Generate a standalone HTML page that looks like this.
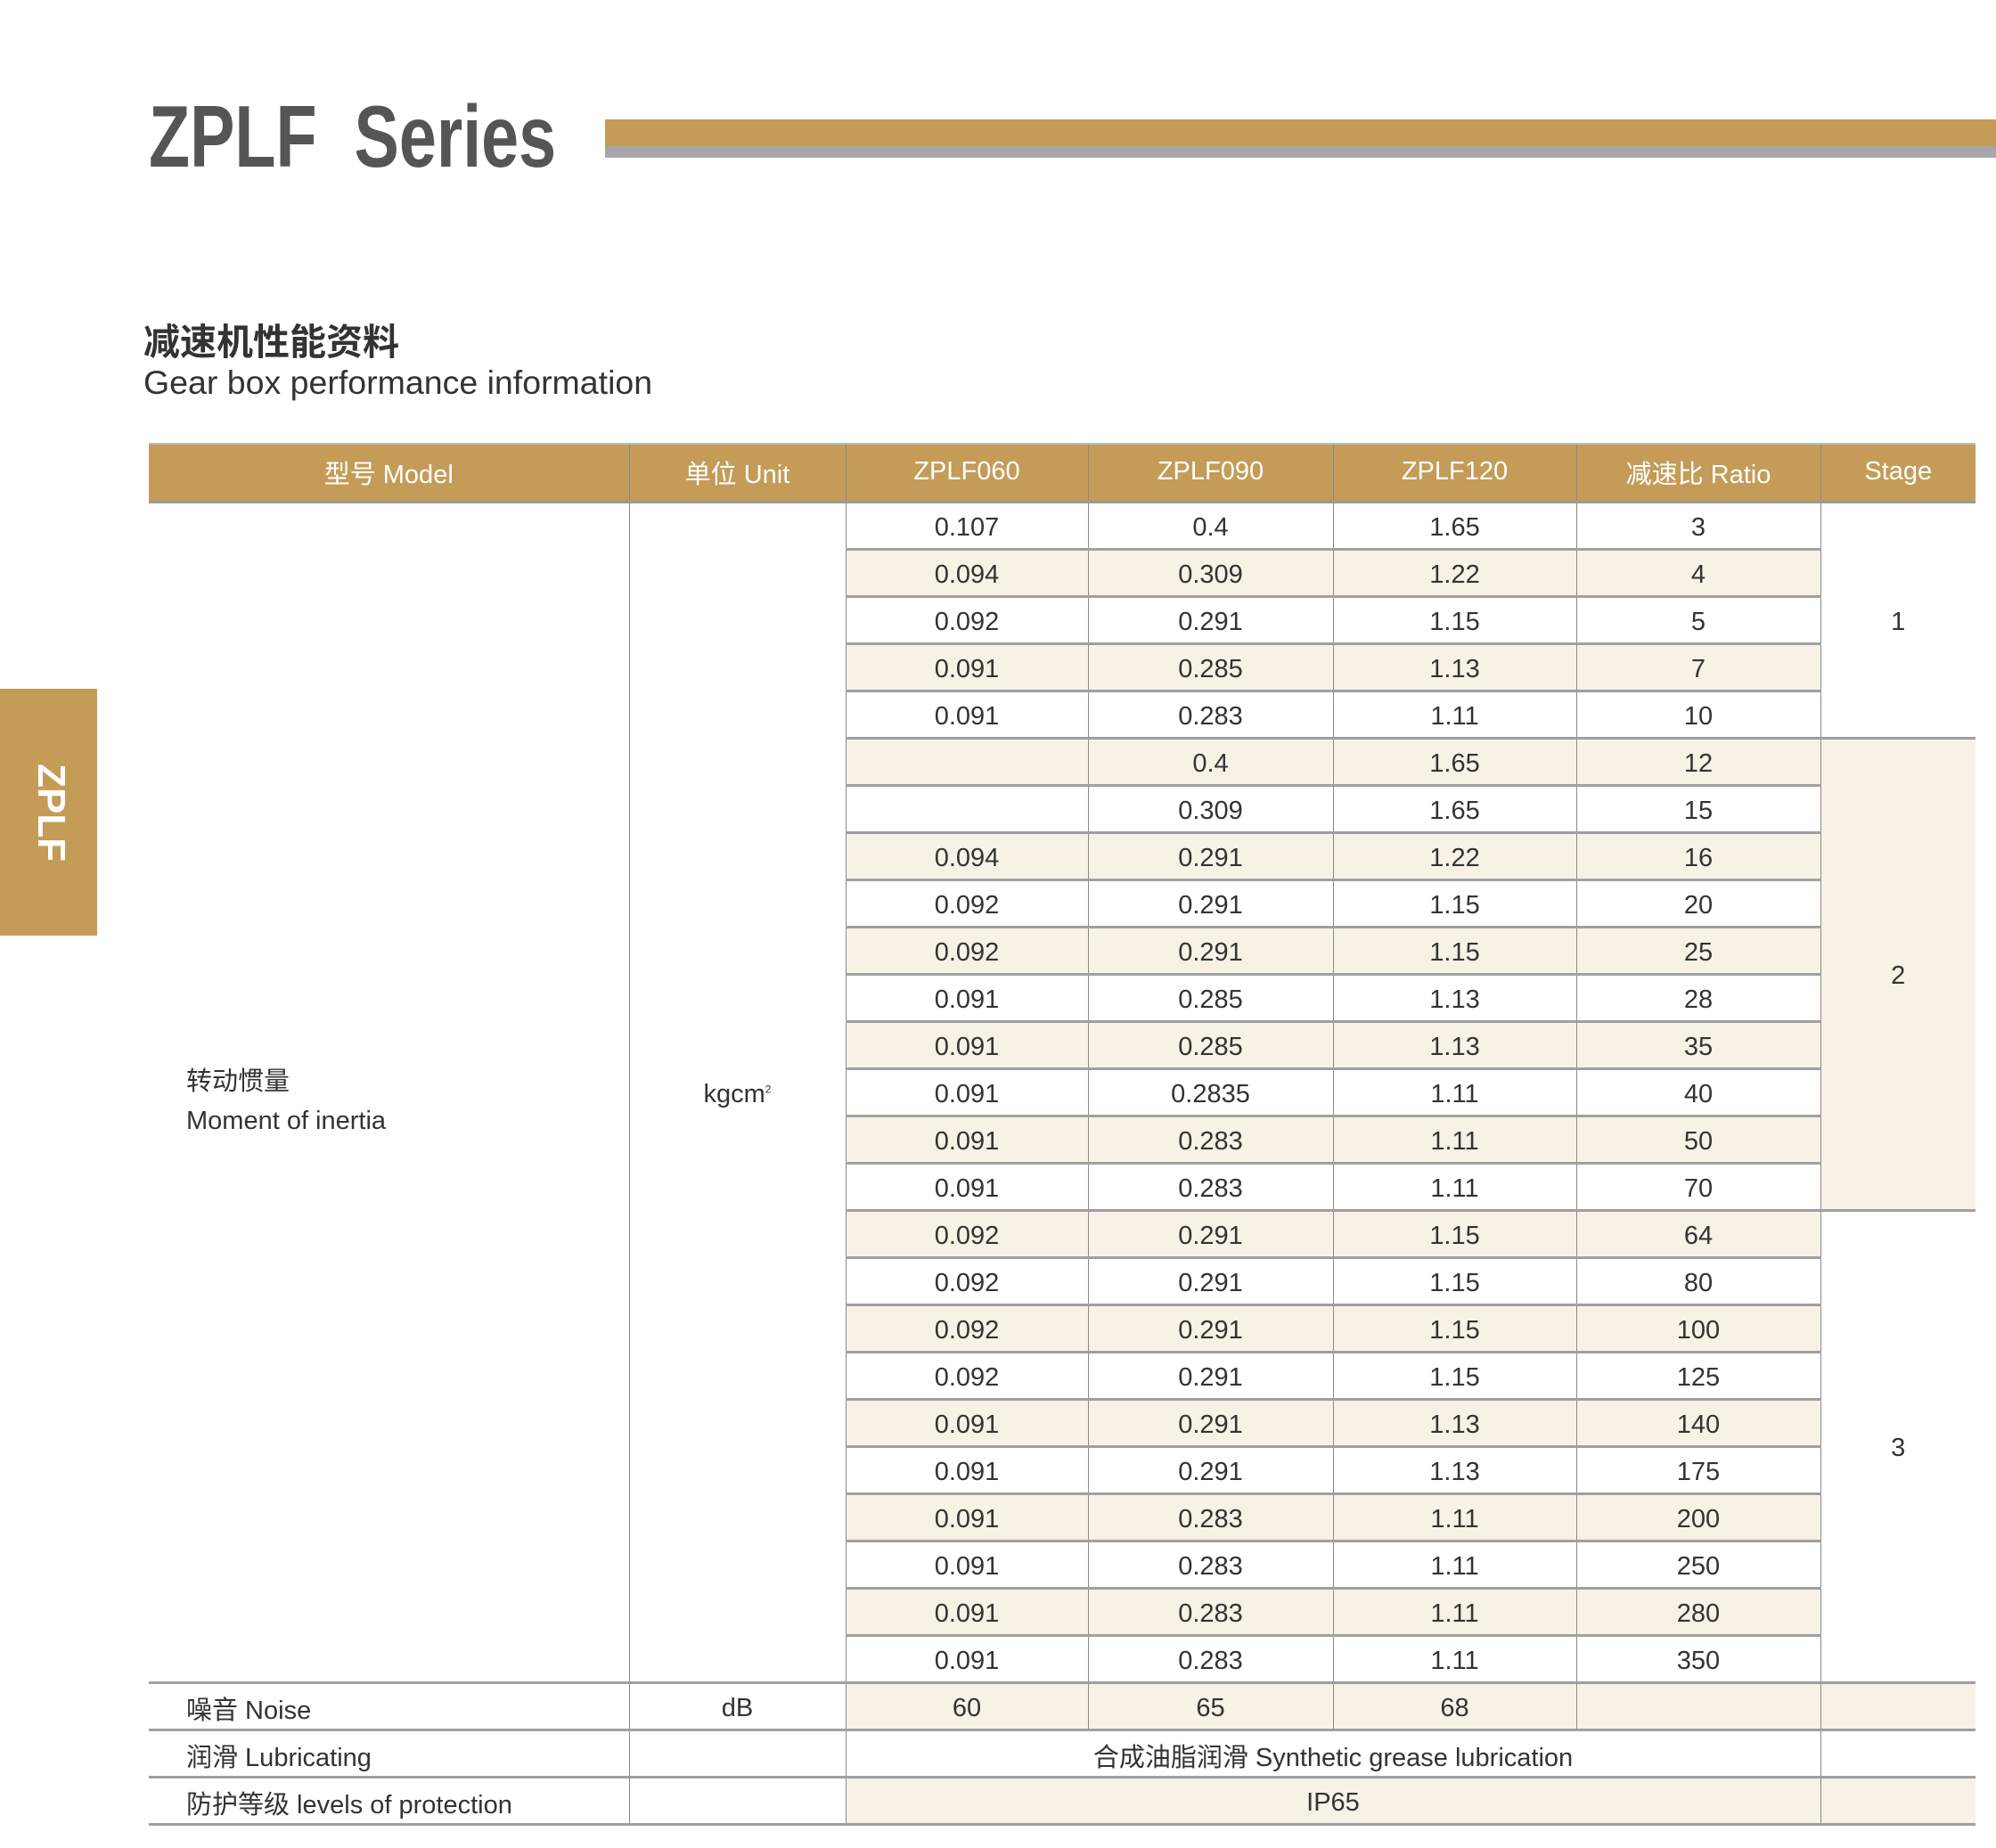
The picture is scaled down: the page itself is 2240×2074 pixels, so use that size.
<!DOCTYPE html>
<html><head><meta charset="utf-8"><style>
body{margin:0;width:2240px;height:2074px;background:#fff;position:relative;overflow:hidden;font-family:"Liberation Sans","Noto Sans CJK SC",sans-serif;color:#333}
.title{position:absolute;left:167px;top:104px;font-size:98px;font-weight:bold;color:#555;transform:scaleX(0.77);transform-origin:left top;white-space:nowrap;line-height:1}
.gold{position:absolute;left:679px;top:134px;width:1561px;height:30px;background:#c49c58}
.gray{position:absolute;left:679px;top:164px;width:1561px;height:13px;background:#a7a7a9}
.tab{position:absolute;left:0;top:773px;width:109px;height:277px;background:#c49c58}
.h1{position:absolute;left:161px;top:350px;font-size:41px;font-weight:bold;color:#333;white-space:nowrap}
.h2{position:absolute;left:161px;top:408px;font-size:37.5px;color:#333;white-space:nowrap}
table{position:absolute;left:167px;top:497px;border-collapse:collapse;table-layout:fixed;width:2050px;font-size:29px}
td{padding:4px 0 0 0;text-align:center;vertical-align:middle;height:46px;border-left:1px solid #8a8a8a}
tr.hd td{background:#c49c58;color:#fff;height:61px;padding:0 0 2px 0;border-top:2px solid #bbb;border-bottom:3px solid #999}
td.first{border-left:none}
.d td.v{border-bottom:3px solid #a0a0a0}
.c td.v{background:#f8f1e6}
td.st{border-bottom:3px solid #a0a0a0}
td.cr{background:#f8f1e6}
.l{text-align:left;padding-left:42px}
.b td{border-bottom:3px solid #a0a0a0}
</style></head><body>
<div class="title">ZPLF&nbsp; Series</div>
<div class="gold"></div><div class="gray"></div>
<div class="tab"></div>
<div style="position:absolute;left:57px;top:912px;color:#fff;font-weight:bold;font-size:44px;transform:translate(-50%,-50%) rotate(90deg);white-space:nowrap">ZPLF</div>
<div class="h1">减速机性能资料</div>
<div class="h2">Gear box performance information</div>
<table>
<colgroup><col style="width:539px"><col style="width:243px"><col style="width:272px"><col style="width:275px"><col style="width:273px"><col style="width:274px"><col style="width:174px"></colgroup>
<tr class="hd"><td class="first">型号 Model</td><td>单位 Unit</td><td>ZPLF060</td><td>ZPLF090</td><td>ZPLF120</td><td>减速比 Ratio</td><td>Stage</td></tr>
<tr class="d"><td class="first l" rowspan="25" style="border-bottom:3px solid #a0a0a0;line-height:44px;padding-top:20px">转动惯量<br>Moment of inertia</td><td rowspan="25" style="border-bottom:3px solid #a0a0a0">kgcm<sup style="font-size:12px">2</sup></td><td class="v">0.107</td><td class="v">0.4</td><td class="v">1.65</td><td class="v">3</td><td class="st" rowspan="5">1</td></tr>
<tr class="d c"><td class="v">0.094</td><td class="v">0.309</td><td class="v">1.22</td><td class="v">4</td></tr>
<tr class="d"><td class="v">0.092</td><td class="v">0.291</td><td class="v">1.15</td><td class="v">5</td></tr>
<tr class="d c"><td class="v">0.091</td><td class="v">0.285</td><td class="v">1.13</td><td class="v">7</td></tr>
<tr class="d"><td class="v">0.091</td><td class="v">0.283</td><td class="v">1.11</td><td class="v">10</td></tr>
<tr class="d c"><td class="v"></td><td class="v">0.4</td><td class="v">1.65</td><td class="v">12</td><td class="st cr" rowspan="10">2</td></tr>
<tr class="d"><td class="v"></td><td class="v">0.309</td><td class="v">1.65</td><td class="v">15</td></tr>
<tr class="d c"><td class="v">0.094</td><td class="v">0.291</td><td class="v">1.22</td><td class="v">16</td></tr>
<tr class="d"><td class="v">0.092</td><td class="v">0.291</td><td class="v">1.15</td><td class="v">20</td></tr>
<tr class="d c"><td class="v">0.092</td><td class="v">0.291</td><td class="v">1.15</td><td class="v">25</td></tr>
<tr class="d"><td class="v">0.091</td><td class="v">0.285</td><td class="v">1.13</td><td class="v">28</td></tr>
<tr class="d c"><td class="v">0.091</td><td class="v">0.285</td><td class="v">1.13</td><td class="v">35</td></tr>
<tr class="d"><td class="v">0.091</td><td class="v">0.2835</td><td class="v">1.11</td><td class="v">40</td></tr>
<tr class="d c"><td class="v">0.091</td><td class="v">0.283</td><td class="v">1.11</td><td class="v">50</td></tr>
<tr class="d"><td class="v">0.091</td><td class="v">0.283</td><td class="v">1.11</td><td class="v">70</td></tr>
<tr class="d c"><td class="v">0.092</td><td class="v">0.291</td><td class="v">1.15</td><td class="v">64</td><td class="st" rowspan="10">3</td></tr>
<tr class="d"><td class="v">0.092</td><td class="v">0.291</td><td class="v">1.15</td><td class="v">80</td></tr>
<tr class="d c"><td class="v">0.092</td><td class="v">0.291</td><td class="v">1.15</td><td class="v">100</td></tr>
<tr class="d"><td class="v">0.092</td><td class="v">0.291</td><td class="v">1.15</td><td class="v">125</td></tr>
<tr class="d c"><td class="v">0.091</td><td class="v">0.291</td><td class="v">1.13</td><td class="v">140</td></tr>
<tr class="d"><td class="v">0.091</td><td class="v">0.291</td><td class="v">1.13</td><td class="v">175</td></tr>
<tr class="d c"><td class="v">0.091</td><td class="v">0.283</td><td class="v">1.11</td><td class="v">200</td></tr>
<tr class="d"><td class="v">0.091</td><td class="v">0.283</td><td class="v">1.11</td><td class="v">250</td></tr>
<tr class="d c"><td class="v">0.091</td><td class="v">0.283</td><td class="v">1.11</td><td class="v">280</td></tr>
<tr class="d"><td class="v">0.091</td><td class="v">0.283</td><td class="v">1.11</td><td class="v">350</td></tr>
<tr class="b"><td class="first l">噪音 Noise</td><td>dB</td><td class="cr">60</td><td class="cr">65</td><td class="cr">68</td><td class="cr"></td><td class="cr"></td></tr>
<tr class="b"><td class="first l">润滑 Lubricating</td><td></td><td colspan="4">合成油脂润滑 Synthetic grease lubrication</td><td></td></tr>
<tr class="b"><td class="first l">防护等级 levels of protection</td><td></td><td colspan="4" class="cr">IP65</td><td class="cr"></td></tr>
</table>
</body></html>
